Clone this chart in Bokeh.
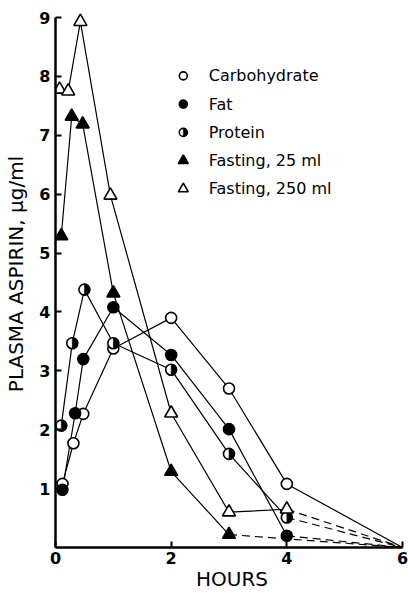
import math
from bokeh.plotting import figure
from bokeh.models import Range1d, FixedTicker, Label
from bokeh.embed import file_html
from bokeh.resources import INLINE

# ---------------- data ----------------
carb_t = [0.12, 0.31, 0.48, 1.0, 2.0, 3.0, 4.0]
carb_v = [1.08, 1.77, 2.27, 3.38, 3.90, 2.70, 1.08]

fat_t = [0.12, 0.34, 0.48, 1.0, 2.0, 3.0, 4.0]
fat_v = [0.98, 2.28, 3.20, 4.08, 3.27, 2.01, 0.20]

prot_t = [0.10, 0.29, 0.50, 1.0, 2.0, 3.0, 4.0]
prot_v = [2.07, 3.47, 4.38, 3.47, 3.02, 1.59, 0.51]

f25_t = [0.10, 0.28, 0.47, 1.0, 2.0, 3.0]
f25_v = [5.29, 7.32, 7.19, 4.32, 1.29, 0.22]

f250_t = [0.07, 0.22, 0.43, 0.95, 2.0, 3.0, 4.0]
f250_v = [7.78, 7.75, 8.93, 5.98, 2.28, 0.60, 0.65]

end_t, end_v = 6.0, 0.0   # all curves converge here

labels = ["Carbohydrate", "Fat", "Protein", "Fasting, 25 ml", "Fasting, 250 ml"]
x_ticks = [0, 2, 4, 6]
y_ticks = [1, 2, 3, 4, 5, 6, 7, 8, 9]
x_title = "HOURS"
y_title = "PLASMA ASPIRIN, \u03bcg/ml"

# ---------------- figure ----------------
FONT = "DejaVu Sans"
p = figure(width=408, height=595, output_backend="svg", toolbar_location=None,
           x_range=Range1d(0, 6.104), y_range=Range1d(0, 9.29),
           min_border_left=55, min_border_right=0, min_border_top=0,
           min_border_bottom=48)
p.outline_line_color = None
p.xgrid.visible = False
p.ygrid.visible = False
p.background_fill_color = "white"

for ax in (p.xaxis[0], p.yaxis[0]):
    ax.axis_line_width = 2.5
    ax.axis_line_color = "black"
    ax.major_tick_in = 6
    ax.major_tick_out = 0
    ax.major_tick_line_width = 2
    ax.minor_tick_line_color = None
    ax.major_label_text_font = FONT
    ax.major_label_text_font_size = "16px"
    ax.major_label_text_font_style = "bold"
    ax.major_label_text_color = "black"
    ax.axis_label_text_font = FONT
    ax.axis_label_text_font_size = "20px"
    ax.axis_label_text_font_style = "normal"
    ax.axis_label_text_color = "black"

p.xaxis[0].ticker = FixedTicker(ticks=x_ticks)
p.yaxis[0].ticker = FixedTicker(ticks=y_ticks)
p.xaxis[0].bounds = (0, 6)
p.yaxis[0].bounds = (0, 9)
p.xaxis[0].axis_label = x_title
p.yaxis[0].axis_label = y_title
p.xaxis[0].major_label_standoff = 4
p.xaxis[0].axis_label_standoff = 0
p.yaxis[0].major_label_standoff = 5
p.yaxis[0].axis_label_standoff = 8

LW = 1.2
DASH = "8 5"

# solid connecting lines
series = [(carb_t, carb_v), (fat_t, fat_v), (prot_t, prot_v),
          (f25_t, f25_v), (f250_t, f250_v)]
for t, v in series:
    p.line(t, v, line_color="black", line_width=LW)

# tails to 6 h (carbohydrate solid, the others dashed)
p.line([carb_t[-1], end_t], [carb_v[-1], end_v], line_color="black", line_width=LW)
for t, v in series[1:]:
    p.line([t[-1], end_t], [v[-1], end_v], line_color="black", line_width=LW,
           line_dash=DASH)

MLW = 1.6
CS = 11
TS = 13

def draw_markers(kind, t, v, cs, ts):
    if kind == 0:
        p.scatter(t, v, marker="circle", size=cs, fill_color="white",
                  line_color="black", line_width=MLW)
    elif kind == 1:
        p.scatter(t, v, marker="circle", size=cs, fill_color="black",
                  line_color="black", line_width=MLW)
    elif kind == 2:
        p.scatter(t, v, marker="circle", size=cs, fill_color="white",
                  line_color="black", line_width=MLW)
        p.wedge(x=t, y=v, radius=cs / 2, radius_units="screen",
                start_angle=-math.pi / 2, end_angle=math.pi / 2,
                fill_color="black", line_color="black", line_width=0.5)
    elif kind == 3:
        p.scatter(t, v, marker="triangle", size=ts, fill_color="black",
                  line_color="black", line_width=MLW)
    else:
        p.scatter(t, v, marker="triangle", size=ts, fill_color="white",
                  line_color="black", line_width=MLW)

for k, (t, v) in enumerate(series):
    draw_markers(k, t, v, CS, TS)

# ---------------- legend (placed inside the plot area) ----------------
LEG_X = 2.21
LEG_TX = 2.65
LEG_Y0 = 8.01
LEG_DY = 0.48
for k, lab in enumerate(labels):
    yy = LEG_Y0 - k * LEG_DY
    draw_markers(k, [LEG_X], [yy], 8, 10)
    p.add_layout(Label(x=LEG_TX, y=yy, text=lab, text_font=FONT,
                       text_font_size="16px", text_baseline="middle",
                       text_color="black"))

open("out.html", "w").write(file_html(p, INLINE))
